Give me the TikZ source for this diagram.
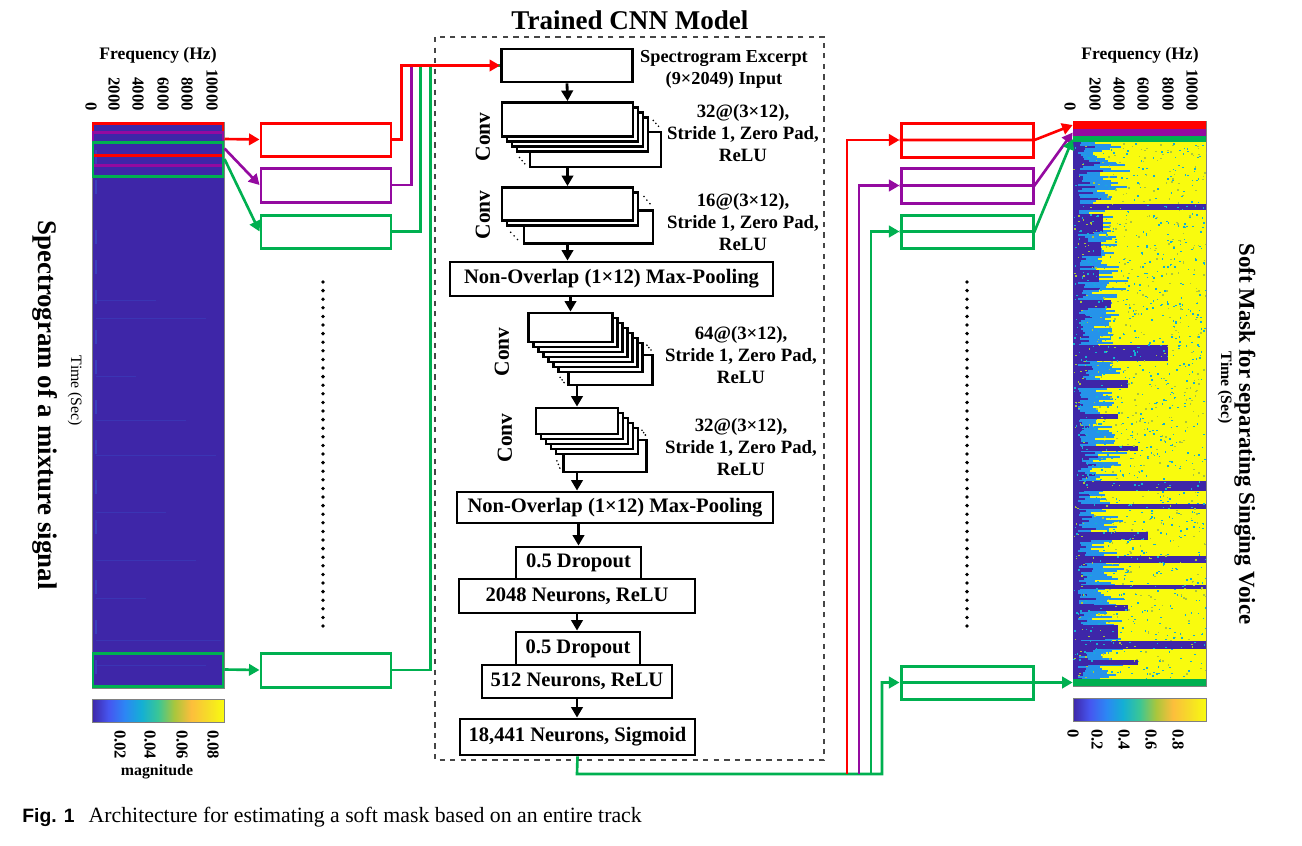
\documentclass[tikz,border=0pt]{standalone}
\usepackage{fontspec}
\setmainfont{Liberation Serif}
\newfontfamily\capsans{Liberation Sans}
\usetikzlibrary{arrows.meta,positioning,calc}
\definecolor{winred}{RGB}{255,0,0}
\definecolor{winpurple}{RGB}{148,10,160}
\definecolor{wingreen}{RGB}{0,176,80}
\definecolor{framegray}{RGB}{70,70,70}
% parula colour map
\definecolor{par0}{RGB}{62,38,168}
\definecolor{par1}{RGB}{70,86,240}
\definecolor{par2}{RGB}{44,135,244}
\definecolor{par3}{RGB}{20,175,212}
\definecolor{par4}{RGB}{58,198,150}
\definecolor{par5}{RGB}{170,198,60}
\definecolor{par6}{RGB}{252,190,60}
\definecolor{par7}{RGB}{246,220,40}
\definecolor{par8}{RGB}{249,251,14}
\pgfdeclarehorizontalshading{parula}{100bp}{color(0bp)=(par0); color(25bp)=(par0);
  color(31.25bp)=(par1); color(37.5bp)=(par2); color(43.75bp)=(par3); color(50bp)=(par4);
  color(56.25bp)=(par5); color(62.5bp)=(par6); color(68.75bp)=(par7); color(75bp)=(par8);
  color(100bp)=(par8)}
\newcommand\titlefont{\fontsize{15.4pt}{18pt}\selectfont\bfseries}
\newcommand\boxfont{\fontsize{11.7pt}{14pt}\selectfont\bfseries}
\newcommand\sidefont{\fontsize{10.7pt}{12.5pt}\selectfont\bfseries}
\newcommand\ticklabfont{\fontsize{9.5pt}{11pt}\selectfont\bfseries}
\tikzset{
  >={Triangle[length=6pt,width=6.5pt]},
  sz/.style 2 args={minimum width=#1*0.2mm,minimum height=#2*0.2mm},
  layer/.style={draw=black,fill=white,line width=1.6pt,inner sep=0pt,font=\boxfont},
  win/.style={draw=#1,line width=1.7pt,inner sep=0pt},
  win/.default=wingreen,
  route/.style={draw=#1,line width=1.5pt},
  route/.default=wingreen,
  flow/.style={->,line width=1.6pt},
  side/.style={font=\sidefont,align=center},
  convlab/.style={font=\fontsize{12.2pt}{14pt}\selectfont\bfseries,rotate=90},
  ticklab/.style={font=\ticklabfont,rotate=-90,inner sep=1pt},
  band/.style={fill=#1,inner sep=0pt},
}

\begin{document}
\begin{tikzpicture}[x=0.2mm,y=-0.2mm]
  \useasboundingbox (0,0) rectangle (1302,845);

  % ---------- left: spectrogram of the mixture ----------
  \node[fill=par0,draw=gray,line width=0.5pt,inner sep=0pt,sz={132}{566}] (spec) at (158,405) {};
  \foreach \yy/\ll in {300/60,318/110,376/40,420/90,455/120,512/70,560/100,598/50,640/125,665/110}
    \draw[par0!85!par2,line width=0.5pt] (96,\yy) -- ++(\ll,0);
  \foreach \yy in {150,180,230,260,290,330,360,400,440,480,520,580,620,660}
    \draw[par0!75!par2,line width=0.6pt] (96,\yy) -- ++(0,14);
  \node[win=winred,sz={130}{32}] (wr) at (158,139) {};
  \node[win=winpurple,sz={130}{33}] (wp) at (158,148.5) {};
  \node[win=wingreen,sz={130}{34}] (wg) at (158,159) {};
  \node[win=wingreen,sz={130}{33}] (wb) at (158,669.5) {};

  \node[font=\fontsize{10pt}{12pt}\selectfont\bfseries] (fql) at (158,55) {Frequency (Hz)};
  \foreach \xx/\lab in {91/0,114/2000,138/4000,163/6000,187/8000,212/10000}
    \node[ticklab,anchor=east] (fl\lab) at (\xx,113) {\lab};
  \node[font=\fontsize{9pt}{11pt}\selectfont,rotate=-90] (tl) at (75,391) {Time (Sec)};
  \node[font=\fontsize{15.3pt}{18pt}\selectfont\bfseries,rotate=-90] (spl) at (45,405) {Spectrogram of a mixture signal};

  \node[shade,shading=parula,draw=gray,line width=0.5pt,sz={132}{23}] (cbl) at (158,710.5) {};
  \foreach \xx/\lab in {120/0.02,150/0.04,182/0.06,213/0.08}
    \node[ticklab,anchor=west] (cl\lab) at (\xx,728) {\lab};
  \node[font=\fontsize{9pt}{11pt}\selectfont\bfseries] (mag) at (157,772) {magnitude};

  % ---------- left: excerpt boxes ----------
  \node[win=winred,sz={130}{33}] (br) at (326,139.5) {};
  \node[win=winpurple,sz={130}{34}] (bp) at (326,185) {};
  \node[win=wingreen,sz={130}{33}] (bg) at (326,231.5) {};
  \node[win=wingreen,sz={130}{34}] (bb) at (326,670) {};
  \draw[route=winred,->] (wr.east) -- (br.west);
  \draw[route=winpurple,->] (wp.east) -- (bp.west);
  \draw[route=wingreen,->] (wg.east) -- (bg.west);
  \draw[route=wingreen,->] (wb.east) -- (bb.west);
  \foreach \k in {0,...,40} \fill (323,282+8.6*\k) circle (1.9);

  % ---------- trained CNN model ----------
  \draw[framegray,dashed,line width=0.7pt] (435,37) rectangle (824,760);
  \node[font=\titlefont] (title) at (630,20) {Trained CNN Model};

  \node[layer,sz={131}{33}] (in) at (567,65.5) {};
  \node[side,font=\fontsize{10.4pt}{12.5pt}\selectfont\bfseries] (inlab) at (724,69) {Spectrogram Excerpt\\(9×2049) Input};

  % conv 1
  \coordinate (c1) at (567.5,119.5);
  \node[layer,sz={131}{35}] (c1z) at ($(c1)+(28,30)$) {};
  \foreach \d in {15,10,5} \node[layer,sz={131}{34}] (c1-\d) at ($(c1)+(\d,\d)$) {};
  \foreach \t in {0.3,0.5,0.7} {
    \fill ($(c1-15.south west)!\t!(c1z.south west)$) circle (0.9);
    \fill ($(c1-15.north east)!\t!(c1z.north east)$) circle (0.9);
  }
  \node[layer,sz={131}{34}] (c1a) at (c1) {};
  \node[convlab] (cv1) at (483,137) {Conv};
  \node[side] (s1) at (743,133) {32@(3×12),\\Stride 1, Zero Pad,\\ReLU};

  % conv 2
  \coordinate (c2) at (567.5,204);
  \node[layer,sz={129}{33}] (c2z) at ($(c2)+(21,23)$) {};
  \node[layer,sz={131}{33}] (c2-5) at ($(c2)+(5,5)$) {};
  \foreach \t in {0.3,0.5,0.7} {
    \fill ($(c2-5.south west)!\t!(c2z.south west)$) circle (0.9);
    \fill ($(c2-5.north east)!\t!(c2z.north east)$) circle (0.9);
  }
  \node[layer,sz={131}{33}] (c2a) at (c2) {};
  \node[convlab] (cv2) at (483,215) {Conv};
  \node[side] (s2) at (743,222) {16@(3×12),\\Stride 1, Zero Pad,\\ReLU};

  \node[layer,sz={323}{34}] (pool1) at (611.5,279) {Non-Overlap (1×12) Max-Pooling};

  % conv 3
  \coordinate (c3) at (570.5,327.5);
  \node[layer,sz={84}{30}] (c3z) at ($(c3)+(40,42.5)$) {};
  \foreach \d in {30,25,20,15,10,5} \node[layer,sz={84}{29}] (c3-\d) at ($(c3)+(\d,\d)$) {};
  \foreach \t in {0.3,0.5,0.7} {
    \fill ($(c3-30.south west)!\t!(c3z.south west)$) circle (0.9);
    \fill ($(c3-30.north east)!\t!(c3z.north east)$) circle (0.9);
  }
  \node[layer,sz={84}{29}] (c3a) at (c3) {};
  \node[convlab] (cv3) at (502,352) {Conv};
  \node[side] (s3) at (741,355) {64@(3×12),\\Stride 1, Zero Pad,\\ReLU};

  % conv 4
  \coordinate (c4) at (577,421);
  \node[layer,sz={83}{32}] (c4z) at ($(c4)+(28,35)$) {};
  \foreach \d in {20,15,10,5} \node[layer,sz={82}{26}] (c4-\d) at ($(c4)+(\d,\d)$) {};
  \foreach \t in {0.3,0.5,0.7} {
    \fill ($(c4-20.south west)!\t!(c4z.south west)$) circle (0.9);
    \fill ($(c4-20.north east)!\t!(c4z.north east)$) circle (0.9);
  }
  \node[layer,sz={82}{26}] (c4a) at (c4) {};
  \node[convlab] (cv4) at (505,438) {Conv};
  \node[side] (s4) at (741,447) {32@(3×12),\\Stride 1, Zero Pad,\\ReLU};

  \node[layer,sz={316}{31}] (pool2) at (615,507.5) {Non-Overlap (1×12) Max-Pooling};
  \node[layer,sz={125}{32}] (drop1) at (578.5,563) {0.5 Dropout};
  \node[layer,sz={236}{34}] (n2048) at (577,596) {2048 Neurons, ReLU};
  \node[layer,sz={124}{33}] (drop2) at (578,648.5) {0.5 Dropout};
  \node[layer,sz={190}{33}] (n512) at (577,681.5) {512 Neurons, ReLU};
  \node[layer,sz={235}{36}] (sig) at (577.5,737) {18,441 Neurons, Sigmoid};

  \draw[flow] (in.south) -- (c1a.north);
  \draw[flow] (c1z.south -| c1a.south) -- (c2a.north);
  \draw[flow] (c2z.south -| c2a.south) -- (pool1.north -| c2a.north);
  \draw[flow] (pool1.south -| c3a.north) -- (c3a.north);
  \draw[flow] (c3z.south -| c4a.north) -- (c4a.north);
  \draw[flow] (c4z.south -| c4a.south) -- (pool2.north -| c4a.south);
  \draw[flow] (pool2.south -| drop1.north) -- (drop1.north);
  \draw[flow] (n2048.south) -- (drop2.north -| n2048.south);
  \draw[flow] (n512.south) -- (sig.north -| n512.south);

  % excerpts into the network
  \draw[route=winpurple] (bp.east) -- ++(19,0) |- (in.west);
  \draw[route=wingreen] (bg.east) -- ++(28,0) |- (in.west);
  \draw[route=wingreen] (bb.east) -- ++(38,0) |- (in.west);
  \draw[route=winred,->] (br.east) -- ++(9,0) |- (in.west);

  % ---------- right: soft mask ----------
  \node[fill=par8,draw=gray,line width=0.5pt,inner sep=0pt,sz={133}{565}] (mask) at (1139.5,403.5) {};
  \begin{scope}
    \clip (1073,142) rectangle (1206,679);
    \pgfmathsetseed{7}
    \foreach \r in {0,...,268} {
      \pgfmathsetmacro\yy{142+2*\r}
      \pgfmathsetmacro\ll{5+28*rnd*rnd}
      \pgfmathsetmacro\mm{10+25*rnd}
      \fill[par2!70!par3] (1073,\yy) rectangle ++(\ll+\mm,2);
      \fill[par0] (1073,\yy) rectangle ++(\ll,2);
    }
    \foreach \yy/\ww/\hh in {204/133/6,214/30/18,242/28/14,270/26/12,300/38/8,345/95/16,380/55/8,
      414/45/5,446/65/5,481/133/10,504/133/5,532/75/8,556/133/7,585/133/4,605/55/6,625/45/14,641/133/8,660/65/5}
      \fill[par0] (1073,\yy) rectangle ++(\ww,\hh);
    \foreach \i in {1,...,900} {
      \pgfmathsetmacro\px{1073+133*rnd}
      \pgfmathsetmacro\py{142+537*rnd}
      \fill[par3] (\px,\py) rectangle ++(1.6,1.4);
    }
    \foreach \i in {1,...,500} {
      \pgfmathsetmacro\px{1073+133*rnd}
      \pgfmathsetmacro\py{142+537*rnd}
      \fill[par5] (\px,\py) rectangle ++(1.6,1.4);
    }
  \end{scope}
  \node[band=winred,sz={133}{8}] (mr) at (1139.5,125) {};
  \node[band=winpurple,sz={133}{7}] (mp) at (1139.5,132.5) {};
  \node[band=wingreen,sz={133}{6}] (mg) at (1139.5,139) {};
  \node[band=wingreen,sz={133}{7}] (mb) at (1139.5,682.5) {};

  \node[font=\fontsize{10pt}{12pt}\selectfont\bfseries] (fqr) at (1140,55) {Frequency (Hz)};
  \foreach \xx/\lab in {1070/0,1095/2000,1119/4000,1143/6000,1168/8000,1192/10000}
    \node[ticklab,anchor=east] (fr\lab) at (\xx,113) {\lab};
  \node[font=\fontsize{9pt}{11pt}\selectfont\bfseries,rotate=-90] (tr) at (1225,388) {Time (Sec)};
  \node[font=\fontsize{13pt}{16pt}\selectfont\bfseries,rotate=-90] (sml) at (1245,434) {Soft Mask for separating Singing Voice};

  \node[shade,shading=parula,draw=gray,line width=0.5pt,sz={133}{23}] (cbr) at (1139.5,709.5) {};
  \foreach \xx/\lab in {1073/0,1097/0.2,1124/0.4,1151/0.6,1178/0.8}
    \node[ticklab,anchor=west] (cr\lab) at (\xx,727) {\lab};

  % ---------- right: estimated mask excerpts ----------
  \node[win=winred,sz={132}{34}] (rr) at (967,140) {};
  \node[win=winpurple,sz={132}{35}] (rp) at (967,185.5) {};
  \node[win=wingreen,sz={132}{33}] (rg) at (967,231.5) {};
  \node[win=wingreen,sz={132}{33}] (rb) at (967,682.5) {};
  \foreach \k in {0,...,40} \fill (967,282+8.6*\k) circle (1.9);

  \coordinate (bus) at (577,774);
  \draw[route=wingreen,->] (sig.south) -- (bus) -- ++(305,0) |- (rb.west);
  \draw[route=wingreen,->] ($(bus)+(294,0)$) |- (rg.west);
  \draw[route=winpurple,->] ($(bus)+(282,0)$) |- (rp.west);
  \draw[route=winred,->] ($(bus)+(270,0)$) |- (rr.west);
  \draw[route=winred,->] (rr.west) -- (rr.east) -- (mr.west);
  \draw[route=winpurple,->] (rp.west) -- (rp.east) -- (mp.west);
  \draw[route=wingreen,->] (rg.west) -- (rg.east) -- (mg.west);
  \draw[route=wingreen,->] (rb.west) -- (rb.east) -- (mb.west);

  % ---------- caption ----------
  \node[anchor=base west,inner sep=0pt] (cap) at (22,822)
    {{\capsans\bfseries\fontsize{11pt}{13pt}\selectfont Fig. 1}\hspace{8pt}{\fontsize{12.4pt}{14pt}\selectfont Architecture for estimating a soft mask based on an entire track}};
\end{tikzpicture}
\end{document}
